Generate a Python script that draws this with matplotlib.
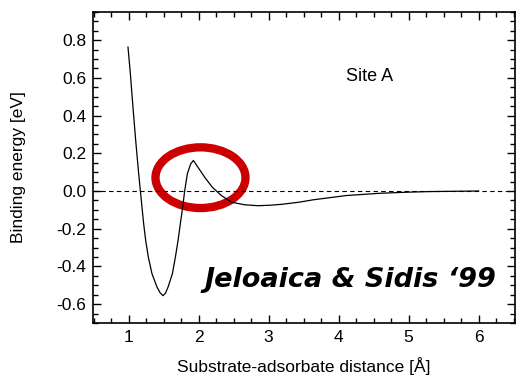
import matplotlib
matplotlib.use("Agg")
import matplotlib.pyplot as plt
from matplotlib.patches import Ellipse

plt.rcParams['font.family'] = ['Liberation Sans', 'DejaVu Sans']

# Data
distance = [0.99, 1.024, 1.061, 1.10, 1.143, 1.167, 1.19, 1.214, 1.243, 1.281, 1.333,
            1.405, 1.45, 1.49, 1.525, 1.562, 1.624, 1.667, 1.705, 1.738, 1.771,
            1.80, 1.838, 1.886, 1.924, 1.99, 2.086, 2.195, 2.324, 2.467, 2.657,
            2.847, 3.04, 3.2, 3.44, 3.63, 4.11, 4.59, 5.0, 5.3, 6.0]
energy = [0.763, 0.622, 0.445, 0.268, 0.091, 0.0, -0.086, -0.174, -0.263, -0.351, -0.439,
          -0.510, -0.540, -0.555, -0.542, -0.510, -0.439, -0.351, -0.263, -0.174, -0.086,
          0.0, 0.091, 0.144, 0.162, 0.126, 0.073, 0.020, -0.024, -0.059, -0.073,
          -0.078, -0.075, -0.070, -0.059, -0.047, -0.024, -0.012, -0.006, -0.003, 0.0]

x_ticks = [1, 2, 3, 4, 5, 6]
y_ticks = [-0.6, -0.4, -0.2, 0.0, 0.2, 0.4, 0.6, 0.8]
y_tick_labels = ['-0.6', '-0.4', '-0.2', '0.0', '0.2', '0.4', '0.6', '0.8']

W, H = 516, 382
fig = plt.figure(figsize=(W / 100, H / 100), dpi=100)
ax = fig.add_axes([93 / W, 1 - 323 / H, (515 - 93) / W, (323 - 11.5) / H])

ax.axhline(0, color='black', lw=0.8, ls=(0, (4, 3)))
ax.plot(distance, energy, color='black', lw=0.9, solid_joinstyle='round')

ell = Ellipse((2.026, 0.0706), 1.286, 0.322, fill=False, edgecolor='#cc0000', lw=6)
ax.add_patch(ell)

ax.set_xlim(0.49, 6.52)
ax.set_ylim(-0.70, 0.952)
ax.set_xticks(x_ticks)
ax.set_xticks([v / 4 for v in range(2, 27)], minor=True)
ax.set_yticks(y_ticks)
ax.set_yticklabels(y_tick_labels)
ax.set_yticks([v / 20 for v in range(-14, 20)], minor=True)

ax.tick_params(which='both', direction='in', top=True, right=True, labelsize=12.5, width=1.0)
ax.tick_params(which='major', length=6, pad=5)
ax.tick_params(which='minor', length=3.5)
for s in ax.spines.values():
    s.set_linewidth(1.2)

ax.set_xlabel('Substrate-adsorbate distance [Å]', fontsize=12.5, labelpad=9)
ax.set_ylabel('Binding energy [eV]', fontsize=12.5, labelpad=22)

ax.text(4.435, 0.582, 'Site A', fontsize=13, ha='center', va='baseline')
ax.text(2.086, -0.507, 'Jeloaica & Sidis \u201899', fontsize=19.5, fontweight='bold',
        fontstyle='italic', ha='left', va='baseline', family=['DejaVu Sans'])

fig.savefig('out.png', dpi=100)
